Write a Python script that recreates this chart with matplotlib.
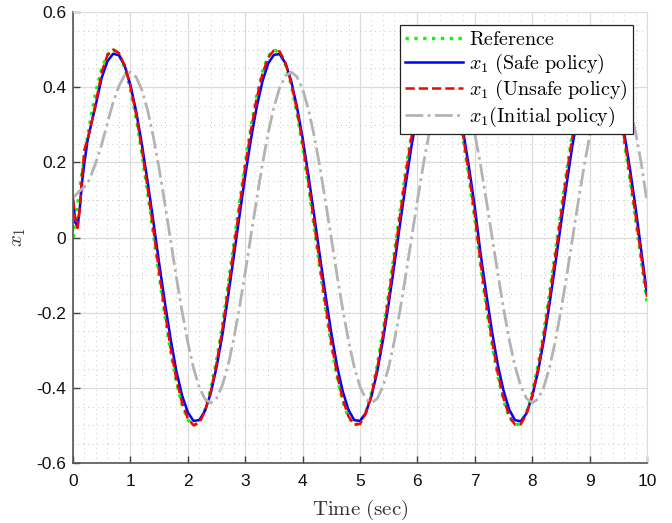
import numpy as np
import matplotlib.pyplot as plt
from matplotlib.ticker import MultipleLocator, FormatStrFormatter

plt.rcParams['mathtext.fontset'] = 'cm'
plt.rcParams['font.family'] = ['Liberation Sans', 'DejaVu Sans']
plt.rcParams['axes.unicode_minus'] = False

# sample times (finer at the start for the transient)
t_start = [0, 0.04, 0.08, 0.12, 0.16, 0.2, 0.25, 0.3]
t = np.concatenate([t_start, np.round(np.arange(0.4, 10.001, 0.1), 2)])

x_ref = [0, 0.045, 0.089, 0.132, 0.175, 0.216, 0.265, 0.310,
         0.389, 0.449, 0.487, 0.500, 0.489, 0.453, 0.395, 0.318, 0.224, 0.120,
         0.010, -0.101, -0.206, -0.302, -0.384, -0.445, -0.484, -0.500, -0.491, -0.458,
         -0.403, -0.328, -0.237, -0.130, -0.020, 0.091, 0.198, 0.294, 0.377, 0.440,
         0.482, 0.499, 0.493, 0.461, 0.407, 0.332, 0.242, 0.139, 0.029, -0.082,
         -0.189, -0.287, -0.371, -0.436, -0.479, -0.499, -0.494, -0.465, -0.413, -0.340,
         -0.250, -0.148, -0.039, 0.072, 0.180, 0.279, 0.363, 0.431, 0.476, 0.498,
         0.495, 0.468, 0.418, 0.347, 0.258, 0.158, 0.049,
         -0.076, -0.184, -0.283, -0.368, -0.433, -0.478, -0.499, -0.495, -0.466, -0.414,
         -0.342, -0.253, -0.151, -0.042, 0.069, 0.177, 0.277, 0.362, 0.429, 0.475,
         0.498, 0.496, 0.469, 0.419, 0.348, 0.259, 0.158, 0.049, -0.062, -0.171]

x_safe = [0.100, 0.040, 0.030, 0.080, 0.150, 0.200, 0.255, 0.290,
          0.355, 0.425, 0.469, 0.489, 0.485, 0.457, 0.406, 0.336, 0.248, 0.149,
          0.043, -0.067, -0.172, -0.269, -0.355, -0.420, -0.465, -0.488, -0.486, -0.461,
          -0.414, -0.346, -0.261, -0.159, -0.052, 0.057, 0.164, 0.261, 0.347, 0.415,
          0.463, 0.486, 0.488, 0.464, 0.417, 0.349, 0.265, 0.167, 0.061, -0.048,
          -0.154, -0.254, -0.341, -0.410, -0.459, -0.486, -0.488, -0.467, -0.422, -0.357,
          -0.273, -0.176, -0.071, 0.038, 0.145, 0.246, 0.332, 0.405, 0.456, 0.484,
          0.489, 0.469, 0.427, 0.363, 0.280, 0.186, 0.081,
          -0.042, -0.149, -0.250, -0.338, -0.407, -0.458, -0.486, -0.489, -0.468, -0.423,
          -0.358, -0.276, -0.179, -0.074, 0.035, 0.142, 0.244, 0.331, 0.403, 0.454,
          0.484, 0.489, 0.470, 0.428, 0.364, 0.281, 0.186, 0.081, -0.035, -0.150]

x_unsafe = [0.100, 0.050, 0.025, 0.080, 0.170, 0.235, 0.260, 0.290,
            0.360, 0.440, 0.485, 0.500, 0.491, 0.458, 0.402, 0.327, 0.234, 0.131,
            0.021, -0.090, -0.196, -0.293, -0.377, -0.440, -0.481, -0.500, -0.493, -0.462,
            -0.410, -0.336, -0.247, -0.141, -0.031, 0.080, 0.188, 0.285, 0.370, 0.435,
            0.479, 0.498, 0.495, 0.465, 0.413, 0.340, 0.252, 0.150, 0.040, -0.071,
            -0.179, -0.278, -0.364, -0.431, -0.476, -0.498, -0.496, -0.469, -0.419, -0.348,
            -0.260, -0.159, -0.050, 0.061, 0.170, 0.270, 0.355, 0.425, 0.473, 0.497,
            0.497, 0.472, 0.424, 0.355, 0.267, 0.168, 0.060,
            -0.065, -0.174, -0.274, -0.361, -0.428, -0.475, -0.498, -0.497, -0.470, -0.420,
            -0.350, -0.263, -0.162, -0.053, 0.058, 0.167, 0.268, 0.354, 0.423, 0.472,
            0.497, 0.497, 0.473, 0.425, 0.356, 0.268, 0.168, 0.060, -0.051, -0.158]

x_init = [0.105, 0.112, 0.118, 0.124, 0.130, 0.135, 0.142, 0.160,
          0.200, 0.248, 0.305, 0.360, 0.403, 0.432, 0.440, 0.427, 0.393, 0.339,
          0.268, 0.184, 0.091, -0.007, -0.105, -0.197, -0.279, -0.348, -0.399, -0.430,
          -0.440, -0.428, -0.394, -0.342, -0.270, -0.186, -0.093, 0.005, 0.102, 0.195,
          0.278, 0.347, 0.398, 0.430, 0.440, 0.428, 0.395, 0.342, 0.272, 0.189,
          0.095, -0.002, -0.100, -0.192, -0.275, -0.345, -0.397, -0.429, -0.440, -0.429,
          -0.396, -0.345, -0.274, -0.191, -0.098, 0.000, 0.098, 0.191, 0.274, 0.344,
          0.396, 0.429, 0.440, 0.429, 0.397, 0.345, 0.276,
          0.193, 0.100, 0.002, -0.095, -0.188, -0.272, -0.342, -0.395, -0.428, -0.440,
          -0.430, -0.399, -0.347, -0.278, -0.195, -0.103, -0.005, 0.093, 0.186, 0.270,
          0.340, 0.394, 0.428, 0.440, 0.430, 0.399, 0.348, 0.280, 0.197, 0.095]

fig = plt.figure(figsize=(6.72, 5.23), dpi=100)
ax = fig.add_axes([73/672, 1 - 463/523, 574/672, 451/523])

ax.plot(t, x_ref, ':', color=(0, 1, 0), lw=2.4, label=r'$\mathrm{Reference}$')
ax.plot(t, x_safe, '-', color=(0, 0, 1), lw=1.8, label=r'$x_1\ \mathrm{(Safe\ policy)}$')
ax.plot(t, x_unsafe, '--', color=(1, 0, 0), lw=1.8, label=r'$x_1\ \mathrm{(Unsafe\ policy)}$')
ax.plot(t, x_init, '-.', color=(0.7, 0.7, 0.7), lw=2.0, label=r'$x_1\mathrm{(Initial\ policy)}$')

ax.set_xlim(0, 10)
ax.set_ylim(-0.6, 0.6)
ax.xaxis.set_major_locator(MultipleLocator(1))
ax.xaxis.set_minor_locator(MultipleLocator(0.2))
ax.yaxis.set_major_locator(MultipleLocator(0.2))
ax.yaxis.set_minor_locator(MultipleLocator(0.05))
ax.yaxis.set_major_formatter(FormatStrFormatter('%g'))

ax.grid(which='major', color='#dcdcdc', lw=0.9, ls='-')
ax.grid(which='minor', color='#c8c8c8', lw=0.7, ls=(0, (1, 4)))
ax.set_axisbelow(True)
ax.tick_params(which='major', direction='in', length=5, width=1, color='#404040',
               labelsize=12.5, labelcolor='#111111')
ax.tick_params(axis='x', which='major', pad=8)
ax.tick_params(axis='y', which='major', pad=5)
ax.tick_params(which='minor', length=0)
for s in ['left', 'bottom']:
    ax.spines[s].set_color('#555555')
    ax.spines[s].set_linewidth(1.2)
for s in ['top', 'right']:
    ax.spines[s].set_color('#dcdcdc')

ax.set_xlabel(r'$\mathrm{Time\ (sec)}$', fontsize=15, color='#333333', labelpad=6)
ax.set_ylabel(r'$x_1$', fontsize=15, color='#333333', labelpad=6)

leg = ax.legend(loc='upper right', bbox_to_anchor=(0.9756, 0.971), borderaxespad=0,
                fontsize=14.5, fancybox=False, framealpha=1, edgecolor='#222222',
                handlelength=2.9, handletextpad=0.3, labelspacing=0.12, borderpad=0.25)
leg.get_frame().set_linewidth(0.9)

fig.savefig('out.png', dpi=100)
